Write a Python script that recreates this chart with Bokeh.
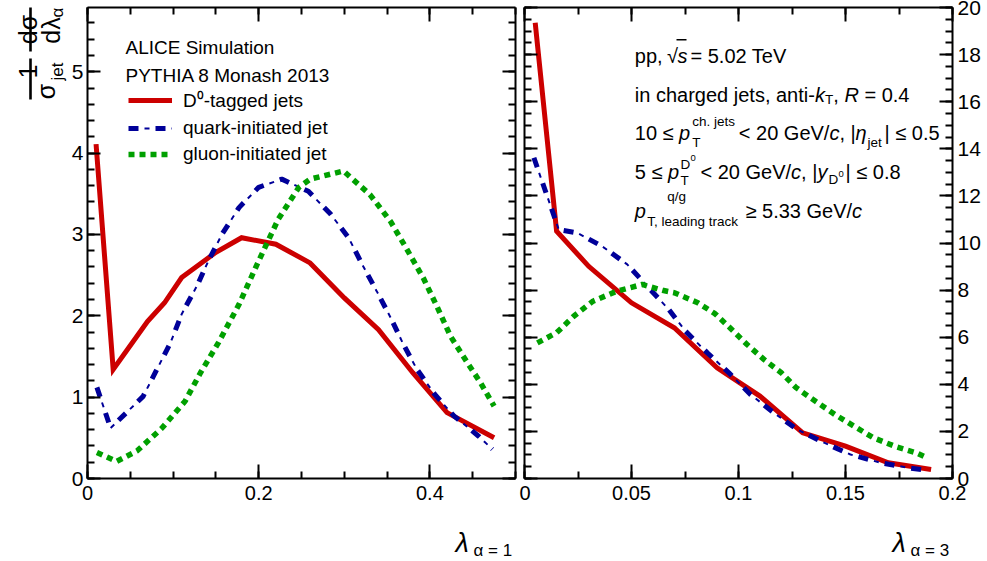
import numpy as np
from bokeh.plotting import figure
from bokeh.models import (Label, BoxAnnotation, Legend, LegendItem, FixedTicker,
                          LinearAxis, Range1d, CustomJSTickFormatter)
from bokeh.layouts import row, column
from bokeh.embed import file_html
from bokeh.resources import INLINE

# ---------------- data ----------------
# lambda_{alpha=1}
lam1_d0_x = [0.01, 0.03, 0.07, 0.09, 0.11, 0.15, 0.18, 0.22, 0.26, 0.30, 0.34, 0.38, 0.42, 0.475]
lam1_d0_y = [4.11, 1.34, 1.93, 2.16, 2.47, 2.78, 2.96, 2.88, 2.65, 2.22, 1.83, 1.30, 0.81, 0.50]

lam1_q_x = [0.011, 0.027, 0.065, 0.081, 0.097, 0.110, 0.128, 0.141, 0.157, 0.177, 0.200, 0.227,
            0.258, 0.284, 0.305, 0.321, 0.338, 0.354, 0.369, 0.385, 0.406, 0.428, 0.457, 0.473]
lam1_q_y = [1.12, 0.62, 1.01, 1.34, 1.67, 2.02, 2.37, 2.67, 3.00, 3.33, 3.58, 3.68,
            3.53, 3.25, 2.96, 2.63, 2.30, 1.98, 1.65, 1.34, 1.03, 0.77, 0.52, 0.36]

lam1_g_x = [0.011, 0.034, 0.058, 0.087, 0.114, 0.132, 0.153, 0.177, 0.198, 0.223, 0.247, 0.260,
            0.299, 0.330, 0.354, 0.373, 0.393, 0.408, 0.424, 0.444, 0.459, 0.475]
lam1_g_y = [0.32, 0.21, 0.34, 0.62, 0.95, 1.30, 1.67, 2.14, 2.63, 3.19, 3.58, 3.68,
            3.78, 3.49, 3.16, 2.82, 2.45, 2.12, 1.75, 1.42, 1.18, 0.89]

# lambda_{alpha=3}
lam3_d0_x = [0.005, 0.015, 0.03, 0.05, 0.07, 0.09, 0.11, 0.13, 0.15, 0.17, 0.19]
lam3_d0_y = [19.35, 10.5, 9.01, 7.46, 6.40, 4.70, 3.50, 1.94, 1.37, 0.67, 0.38]

lam3_q_x = [0.0044, 0.016, 0.0246, 0.0363, 0.048, 0.0573, 0.0674, 0.0752, 0.0854, 0.0955, 0.1056,
            0.1165, 0.1274, 0.140, 0.1523, 0.1664, 0.1796, 0.188]
lam3_q_y = [13.62, 10.57, 10.43, 9.86, 9.09, 8.17, 7.18, 6.26, 5.34, 4.49, 3.57,
            2.79, 2.08, 1.52, 1.02, 0.67, 0.45, 0.35]

lam3_g_x = [0.006, 0.015, 0.023, 0.032, 0.043, 0.055, 0.065, 0.070, 0.081, 0.089, 0.096, 0.104,
            0.112, 0.120, 0.127, 0.136, 0.145, 0.154, 0.163, 0.173, 0.183, 0.188]
lam3_g_y = [5.76, 6.19, 6.89, 7.53, 7.95, 8.24, 7.98, 7.89, 7.46, 7.00, 6.40, 5.69,
            5.05, 4.49, 3.85, 3.28, 2.72, 2.22, 1.73, 1.37, 1.09, 0.88]

x1_ticks = [0, 0.2, 0.4]
x1_labels = ["0", "0.2", "0.4"]
y1_ticks = [0, 1, 2, 3, 4, 5]
y1_labels = ["0", "1", "2", "3", "4", "5"]
x3_ticks = [0, 0.05, 0.1, 0.15, 0.2]
x3_labels = ["0", "0.05", "0.1", "0.15", "0.2"]
y3_ticks = [0, 2, 4, 6, 8, 10, 12, 14, 16, 18, 20]
y3_labels = ["0", "2", "4", "6", "8", "10", "12", "14", "16", "18", "20"]

series_names = ["D\u2070-tagged jets", "quark-initiated jet", "gluon-initiated jet"]

# ---------------- style ----------------
FONT = "Liberation Sans"
RED = "#cc0000"
BLUE = "#000099"
GREEN = "#00a000"
PH = 508   # height of the two panels
FB = 479   # frame bottom (page px)


def fmt(ticks, labels, show):
    return CustomJSTickFormatter(args=dict(vals=list(ticks), labs=list(labels), show=show), code="""
if (!show) { return ''; }
for (let i = 0; i < vals.length; i++) { if (Math.abs(vals[i] - tick) < 1e-9) { return labs[i]; } }
return '';
""")


def axis(p, side, ticks, labels, minor, show, tin, mtin, size="20px", standoff=6):
    ax = LinearAxis(ticker=FixedTicker(ticks=list(ticks), minor_ticks=list(minor)),
                    formatter=fmt(ticks, labels, show))
    ax.axis_line_color = "black"
    ax.axis_line_width = 2
    ax.major_tick_line_color = "black"
    ax.major_tick_line_width = 2
    ax.minor_tick_line_color = "black"
    ax.minor_tick_line_width = 2
    ax.major_tick_in = tin
    ax.major_tick_out = 0
    ax.minor_tick_in = mtin
    ax.minor_tick_out = 0
    if show:
        ax.major_label_text_font = FONT
        ax.major_label_text_font_size = size
        ax.major_label_text_color = "black"
        ax.major_label_standoff = standoff
    else:
        ax.major_label_text_font_size = "0px"
        ax.major_label_standoff = 0
    p.add_layout(ax, side)


def make_fig(width, height, xr, yr, mbl, mbr, mbt, mbb):
    p = figure(width=width, height=height, x_range=Range1d(*xr), y_range=Range1d(*yr),
               min_border_left=mbl, min_border_right=mbr, min_border_top=mbt, min_border_bottom=mbb,
               x_axis_location=None, y_axis_location=None,
               output_backend="svg", toolbar_location=None)
    p.xgrid.visible = False
    p.ygrid.visible = False
    p.outline_line_color = None
    p.background_fill_color = "white"
    p.border_fill_color = "white"
    return p


def txt(p, L, B, text, px, py, size, italic=False, angle=0.0, align="left"):
    p.add_layout(Label(x=px - L, y=B - py, x_units="screen", y_units="screen", text=text,
                       text_font=FONT, text_font_size=f"{size}px",
                       text_font_style="italic" if italic else "normal",
                       text_align=align, text_baseline="alphabetic", angle=angle,
                       text_color="black"))


def bar(p, L, B, x0, x1, y0, y1):
    p.add_layout(BoxAnnotation(left=x0 - L, right=x1 - L, bottom=B - y1, top=B - y0,
                               left_units="screen", right_units="screen",
                               bottom_units="screen", top_units="screen",
                               fill_color="black", fill_alpha=1.0, line_color=None))


def draw_series(p, dx, dy, qx, qy, gx, gy):
    r_d = p.line(dx, dy, line_color=RED, line_width=5, line_join="miter")
    r_q1 = p.line(qx, qy, line_color=BLUE, line_width=5, line_dash="10 17")
    r_q2 = p.line(qx, qy, line_color=BLUE, line_width=2, line_dash="5 22", line_dash_offset=11)
    r_g = p.line(gx, gy, line_color=GREEN, line_width=5.5, line_dash="6 5")
    return r_d, r_q1, r_q2, r_g


# ---------------- y-axis title column (frame aligned with the panels) ----------------
yt = make_fig(67, PH, (0, 1), (0, 1), 0, 0, 7, 30)
ang = np.pi / 2
txt(yt, 0, FB, "1", 27, 72, 25, angle=ang, align="center")
bar(yt, 0, FB, 28.7, 31.3, 59, 100)
txt(yt, 0, FB, "\u03c3", 45, 92, 25, angle=ang, align="center")
txt(yt, 0, FB, "jet", 57, 72, 17, angle=ang, align="center")
txt(yt, 0, FB, "d\u03c3", 27, 30, 25, angle=ang, align="center")
bar(yt, 0, FB, 28.7, 31.3, 7, 52)
txt(yt, 0, FB, "d\u03bb", 50, 31, 25, angle=ang, align="center")
txt(yt, 0, FB, "\u03b1", 57, 13, 17, angle=ang, align="center")

# ---------------- left panel ----------------
L1 = 87
p1 = make_fig(452, PH, (0, 0.5), (0, 5.79), 20, 4, 7, 30)
x1_minor = [round(v, 3) for v in np.arange(0, 0.5001, 0.05)]
y1_minor = [round(v, 2) for v in np.arange(0, 5.8, 0.2)]
axis(p1, "below", x1_ticks, x1_labels, x1_minor, True, 14, 7, "20px", 7)
axis(p1, "above", x1_ticks, x1_labels, x1_minor, False, 14, 7)
axis(p1, "left", y1_ticks, y1_labels, y1_minor, True, 13, 7, "21px", 4)
axis(p1, "right", y1_ticks, y1_labels, y1_minor, False, 13, 7)

rd, rq1, rq2, rg = draw_series(p1, lam1_d0_x, lam1_d0_y, lam1_q_x, lam1_q_y, lam1_g_x, lam1_g_y)

legend = Legend(items=[LegendItem(label=series_names[0], renderers=[rd]),
                       LegendItem(label=series_names[1], renderers=[rq1, rq2]),
                       LegendItem(label=series_names[2], renderers=[rg])],
                location=(41, 313), glyph_width=44, glyph_height=22, label_height=22,
                label_standoff=11, spacing=4, padding=0, margin=0,
                border_line_color=None, background_fill_alpha=0,
                label_text_font=FONT, label_text_font_size="19px", label_text_color="black")
p1.add_layout(legend)

txt(p1, L1, FB, "ALICE Simulation", 125, 48, 19)
txt(p1, L1, FB, "PYTHIA 8 Monash 2013", 125, 76, 19)

# ---------------- right panel ----------------
L2 = 524
p2 = make_fig(468, PH, (0, 0.2), (0, 20), 5, 35, 7, 30)
x3_minor = [round(v, 4) for v in np.arange(0, 0.2001, 0.025)]
y3_minor = [round(v, 2) for v in np.arange(0, 20.01, 0.5)]
axis(p2, "below", x3_ticks, x3_labels, x3_minor, True, 14, 7, "20px", 7)
axis(p2, "above", x3_ticks, x3_labels, x3_minor, False, 14, 7)
axis(p2, "left", y3_ticks, y3_labels, y3_minor, False, 13, 7)
axis(p2, "right", y3_ticks, y3_labels, y3_minor, True, 13, 7, "21px", 5)

draw_series(p2, lam3_d0_x, lam3_d0_y, lam3_q_x, lam3_q_y, lam3_g_x, lam3_g_y)

S, s = 20, 13.5


def t2(text, px, py, size, italic=False):
    txt(p2, L2, FB, text, px, py, size, italic=italic)


# line 1
t2("pp, ", 634.3, 56, S)
t2("\u221a", 666.5, 56, S)
bar(p2, L2, FB, 676, 686, 39.5, 41)
t2("s", 677, 56, S, italic=True)
t2("= 5.02 TeV", 690, 56, S)
# line 2
t2("in charged jets, anti-", 634.3, 95, S)
t2("k", 814.4, 95, S, italic=True)
t2("T", 824.5, 100, s)
t2(",", 832.8, 95, S)
t2("R", 843.9, 95, S, italic=True)
t2("= 0.4", 863.9, 95, S)
# line 3
t2("10 \u2264", 634.3, 133, S)
t2("p", 678.6, 133, S, italic=True)
t2("ch. jets", 691.7, 121.5, s)
t2("T", 691.7, 143, s)
t2("< 20 GeV/", 738.3, 133, S)
t2("c", 828.9, 133, S, italic=True)
t2(", |", 838.9, 133, S)
t2("\u03b7", 855, 133, S, italic=True)
t2("jet", 867, 143, s)
t2("| \u2264 0.5", 884, 133, S)
# line 4
t2("5 \u2264", 634.3, 172.7, S)
t2("p", 667.5, 172.7, S, italic=True)
t2("D", 680, 164.5, s)
t2("0", 690, 158, 9.5)
t2("T", 680, 181, s)
t2("< 20 GeV/", 700, 172.7, S)
t2("c", 790.6, 172.7, S, italic=True)
t2(", |", 800.6, 172.7, S)
t2("y", 817, 172.7, S, italic=True)
t2("D", 828, 180, s)
t2("0", 838, 174, 9.5)
t2("| \u2264 0.8", 845, 172.7, S)
# line 5
t2("p", 634.3, 211.7, S, italic=True)
t2("q/g", 666.7, 197, s)
t2("T, leading track", 646.7, 221.7, s)
t2("\u2265 5.33 GeV/", 745, 211.7, S)
t2("c", 851.6, 211.7, S, italic=True)

# ---------------- x-axis titles strip ----------------
XH = 52
xt = make_fig(987, XH, (0, 1), (0, 1), 0, 0, 0, 0)
XB = PH + XH
txt(xt, 0, XB, "\u03bb", 455, 542, 27, italic=True)
txt(xt, 0, XB, "\u03b1 = 1", 473, 550, 17)
txt(xt, 0, XB, "\u03bb", 892, 542, 27, italic=True)
txt(xt, 0, XB, "\u03b1 = 3", 910, 550, 17)

layout = column(row(yt, p1, p2, spacing=0), xt, spacing=0)
open("out.html", "w").write(file_html(layout, INLINE))
